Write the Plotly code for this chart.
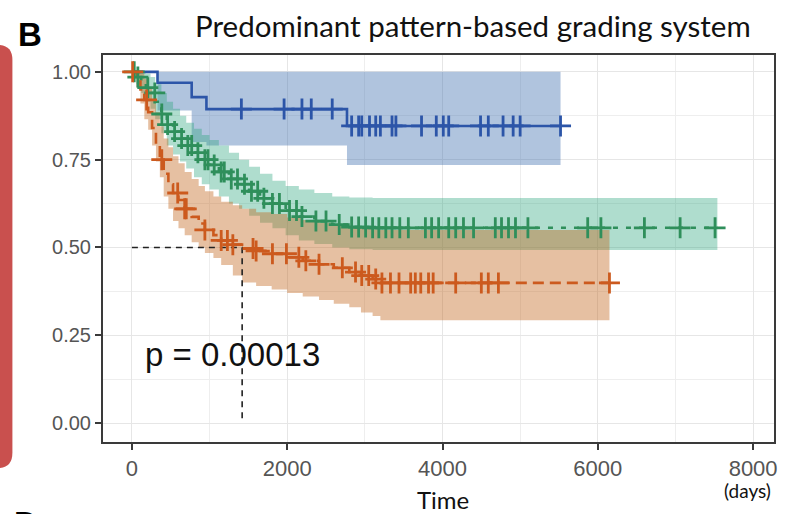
import numpy as np
import plotly.graph_objects as go

# ---------------- data ----------------
blue_t = [0, 330, 770, 960, 2770, 5520]
blue_s = [1.0, 0.969, 0.928, 0.894, 0.846, 0.846]
blue_up = [1.0, 1.0, 1.0, 1.0, 1.0, 1.0]
blue_lo = [1.0, 0.89, 0.80, 0.79, 0.735, 0.735]
blue_cens = [1410, 1960, 2190, 2310, 2580, 2830, 2920, 2960, 3060, 3140, 3200, 3350, 3400,
             3730, 3920, 4010, 4080, 4490, 4590, 4780, 4910, 5000, 5520]

green_t = [0, 60, 120, 180, 240, 300, 380, 450, 530, 620, 700, 800, 900, 1000, 1120, 1250,
           1380, 1510, 1650, 1810, 1980, 2150, 2350, 2580, 2800, 3100, 7540]
green_s = [1.0, 0.985, 0.97, 0.955, 0.94, 0.915, 0.88, 0.85, 0.83, 0.81, 0.79, 0.77, 0.75,
           0.735, 0.715, 0.695, 0.68, 0.66, 0.64, 0.625, 0.605, 0.588, 0.575, 0.565, 0.558,
           0.556, 0.556]
green_up = [1.0, 1.0, 1.0, 0.995, 0.985, 0.965, 0.94, 0.915, 0.895, 0.875, 0.855, 0.838, 0.82,
            0.806, 0.79, 0.77, 0.75, 0.73, 0.71, 0.69, 0.675, 0.665, 0.655, 0.645, 0.642,
            0.641, 0.641]
green_lo = [1.0, 0.965, 0.94, 0.915, 0.895, 0.865, 0.825, 0.79, 0.765, 0.745, 0.725, 0.70,
            0.68, 0.665, 0.645, 0.625, 0.61, 0.59, 0.57, 0.555, 0.535, 0.52, 0.51, 0.50,
            0.495, 0.493, 0.493]
green_cens = [30, 77, 205, 295, 385, 460, 550, 640, 720, 770, 850, 940, 980, 1060, 1150, 1190,
              1280, 1360, 1450, 1540, 1620, 1700, 1810, 1900, 2030, 2120, 2190, 2370, 2500,
              2670, 2830, 2920, 3010, 3100, 3180, 3270, 3350, 3450, 3560, 3780, 3860, 3950,
              4080, 4170, 4270, 4400, 4680, 4760, 4850, 4940, 5100, 5870, 6040, 6600, 7060,
              7510]

orange_t = [0, 60, 110, 160, 210, 260, 310, 360, 410, 470, 530, 600, 680, 770, 860, 940, 1050,
            1150, 1300, 1420, 1600, 1800, 2000, 2200, 2410, 2600, 2800, 2950, 3100, 3200, 6150]
orange_s = [1.0, 0.98, 0.95, 0.92, 0.885, 0.84, 0.795, 0.75, 0.71, 0.68, 0.655, 0.635, 0.61,
            0.587, 0.568, 0.55, 0.535, 0.52, 0.508, 0.497, 0.49, 0.482, 0.472, 0.462, 0.452,
            0.442, 0.43, 0.42, 0.41, 0.399, 0.399]
orange_up = [1.0, 1.0, 0.995, 0.98, 0.955, 0.92, 0.885, 0.845, 0.81, 0.785, 0.76, 0.74, 0.715,
             0.695, 0.675, 0.66, 0.645, 0.63, 0.62, 0.61, 0.60, 0.595, 0.585, 0.578, 0.57,
             0.563, 0.556, 0.553, 0.551, 0.55, 0.55]
orange_lo = [1.0, 0.955, 0.91, 0.865, 0.835, 0.79, 0.745, 0.70, 0.645, 0.61, 0.575, 0.555,
             0.535, 0.515, 0.50, 0.484, 0.47, 0.45, 0.42, 0.40, 0.39, 0.38, 0.37, 0.36, 0.35,
             0.34, 0.33, 0.315, 0.305, 0.293, 0.293]
orange_cens = [10, 190, 385, 590, 680, 700, 940, 1150, 1230, 1300, 1560, 1600, 1810, 1990, 2150,
               2240, 2410, 2710, 2880, 2960, 3050, 3140, 3220, 3330, 3440, 3590, 3650, 3720,
               3820, 3880, 4170, 4500, 4590, 4720, 6150]

p_text = "p = 0.00013"
title_text = "Predominant pattern-based grading system"
x_ticks = [0, 2000, 4000, 6000, 8000]
y_ticks = [0.0, 0.25, 0.5, 0.75, 1.0]

# ---------------- styles ----------------
groups = [
    dict(t=blue_t, s=blue_s, up=blue_up, lo=blue_lo, c=blue_cens,
         line="#2C55A8", fill="rgba(57,107,172,0.40)", dash="solid"),
    dict(t=green_t, s=green_s, up=green_up, lo=green_lo, c=green_cens,
         line="#2F8F5B", fill="rgba(45,165,125,0.38)", dash="5px,8px"),
    dict(t=orange_t, s=orange_s, up=orange_up, lo=orange_lo, c=orange_cens,
         line="#CC5A1E", fill="rgba(193,97,22,0.40)", dash="11px,6px"),
]


def step_at(ts, ss, q):
    idx = np.searchsorted(np.array(ts), np.array(q), side="right") - 1
    return list(np.array(ss)[idx])


fig = go.Figure()

# bands
for g in groups:
    fig.add_trace(go.Scatter(x=g["t"], y=g["lo"], mode="lines", line=dict(width=0, shape="hv"),
                             hoverinfo="skip", showlegend=False))
    fig.add_trace(go.Scatter(x=g["t"], y=g["up"], mode="lines", line=dict(width=0, shape="hv"),
                             fill="tonexty", fillcolor=g["fill"], hoverinfo="skip",
                             showlegend=False))

# median line
med_t = [t for t, s in zip(orange_t, orange_s) if s <= 0.5][0]
fig.add_trace(go.Scatter(x=[0, med_t, med_t], y=[0.5, 0.5, 0.0], mode="lines",
                         line=dict(color="#222222", width=1.6, dash="6px,5px"),
                         showlegend=False, hoverinfo="skip"))

# curves
for g in groups:
    fig.add_trace(go.Scatter(x=g["t"], y=g["s"], mode="lines",
                             line=dict(color=g["line"], width=2.6, shape="hv", dash=g["dash"]),
                             showlegend=False))
# censor marks
for g in groups:
    fig.add_trace(go.Scatter(x=g["c"], y=step_at(g["t"], g["s"], g["c"]), mode="markers",
                             marker=dict(symbol="cross-thin", size=15,
                                         line=dict(color=g["line"], width=2.8)),
                             showlegend=False))

L, R, T, B = 103, 11, 55, 72
W, H = 788, 514


def px(x):
    return (x - L) / (W - L - R)


def py(y):
    return (H - B - y) / (H - T - B)


fig.add_annotation(x=141, y=0.194, xref="x", yref="y", text=p_text, showarrow=False,
                   xanchor="left", yanchor="middle",
                   font=dict(family="Liberation Sans, Arial", size=33, color="#111111"))
fig.add_annotation(x=px(475), y=py(25), xref="paper", yref="paper", text=title_text,
                   showarrow=False, xanchor="center", yanchor="middle",
                   font=dict(family="Lato", size=29.5, color="#111111"))
fig.add_annotation(x=px(30), y=py(35), xref="paper", yref="paper", text="<b>B</b>",
                   showarrow=False, xanchor="center", yanchor="middle",
                   font=dict(family="Liberation Sans, Arial", size=33, color="#000000"))
fig.add_annotation(x=px(26), y=py(503), xref="paper", yref="paper", text="<b>D</b>",
                   showarrow=False, xanchor="center", yanchor="top",
                   font=dict(family="Liberation Sans, Arial", size=33, color="#000000"))
fig.add_annotation(x=px(445), y=py(499), xref="paper", yref="paper", text="Time",
                   showarrow=False, xanchor="center", yanchor="middle",
                   font=dict(family="Lato", size=24, color="#111111"))
fig.add_annotation(x=px(750), y=py(490), xref="paper", yref="paper", text="(days)",
                   showarrow=False, xanchor="center", yanchor="middle",
                   font=dict(family="Lato", size=19, color="#111111"))

# red border stripe on left
rx = px(12)
rx0 = px(-30)
rxc = px(-3)
yt, yb = py(45), py(468)
ytc, ybc = py(60), py(453)
fig.add_shape(type="path", xref="paper", yref="paper",
              path=f"M {rx0},{yt} L {rxc},{yt} Q {rx},{yt} {rx},{ytc} L {rx},{ybc} "
                   f"Q {rx},{yb} {rxc},{yb} L {rx0},{yb} Z",
              fillcolor="#C9504E", line=dict(width=0), layer="above")

axis_common = dict(showline=True, mirror=True, linecolor="#3a3a3a", linewidth=2,
                   ticks="outside", ticklen=6, tickwidth=2, tickcolor="#3a3a3a",
                   showgrid=True, gridcolor="#E6E6E6", gridwidth=1.2, zeroline=False)

fig.update_layout(
    width=W, height=H, margin=dict(l=L, r=R, t=T, b=B),
    paper_bgcolor="white", plot_bgcolor="white",
    xaxis=dict(range=[-372, 8269], tickvals=x_ticks, ticktext=[str(v) for v in x_ticks],
               minor=dict(dtick=1000, tick0=0, showgrid=True, gridcolor="#EEEEEE",
                          ticks=""),
               tickfont=dict(family="Liberation Sans, Arial", size=22, color="#555555"),
               **axis_common),
    yaxis=dict(range=[-0.054, 1.048], tickvals=y_ticks,
               ticktext=[f"{v:.2f}" for v in y_ticks],
               minor=dict(dtick=0.125, tick0=0, showgrid=True, gridcolor="#EEEEEE",
                          ticks=""),
               tickfont=dict(family="Liberation Sans, Arial", size=20, color="#555555"),
               **axis_common),
)

fig.write_html("out.html")
